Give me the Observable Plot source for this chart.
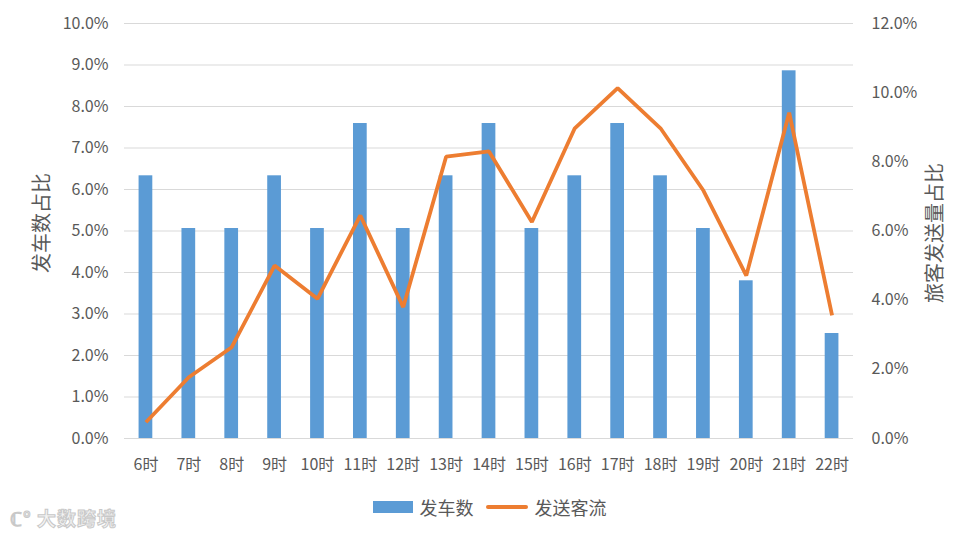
<!DOCTYPE html>
<html><head><meta charset="utf-8">
<script src="https://cdn.jsdelivr.net/npm/d3@7"></script>
<script src="https://cdn.jsdelivr.net/npm/@observablehq/plot@0.6"></script>
<style>
body{margin:0;background:#fff;font-family:"Noto Sans CJK SC","Noto Sans",sans-serif;}
#wrap{position:relative;width:979px;height:538px;overflow:hidden;}
#legend{position:absolute;left:0;top:494px;width:979px;display:flex;justify-content:center;align-items:center;gap:12px;font-size:18px;color:#595959;}
.item{display:flex;align-items:center;gap:7px;}
#wm{position:absolute;left:10px;top:504px;font-size:19px;font-weight:bold;color:#f4f4f4;-webkit-text-stroke:1px #c8c8c8;letter-spacing:1px;}
</style></head><body>
<div id="wrap"><div id="chart"></div>
<div id="legend"><div class="item"><span style="display:inline-block;width:40px;height:12px;background:#5B9BD5"></span>发车数</div>
<div class="item"><span style="display:inline-block;width:42px;height:4px;background:#ED7D31;border-radius:2px"></span>发送客流</div></div>
<div id="wm">ℂ° 大数跨境</div>
</div>
<script>
const hours = ["6时","7时","8时","9时","10时","11时","12时","13时","14时","15时","16时","17时","18时","19时","20时","21时","22时"];
const departures = [6.33,5.06,5.06,6.33,5.06,7.59,5.06,6.33,7.59,5.06,6.33,7.59,6.33,5.06,3.80,8.86,2.53];
const passengers = [0.47,1.77,2.64,5.0,4.04,6.45,3.80,8.15,8.30,6.26,8.97,10.13,8.97,7.17,4.71,9.42,3.56];
const leftTicks = [0,1,2,3,4,5,6,7,8,9,10];
const rightTicks = [0,2,4,6,8,10,12];
const leftTitle = "发车数占比";
const rightTitle = "旅客发送量占比";

const k = 10/12;
const data = hours.map((h,i)=>({h, dep:departures[i], pas:passengers[i]}));
const font = "Noto Sans CJK SC";
const chart = Plot.plot({
  width:979, height:480,
  marginTop:23, marginBottom:42, marginLeft:124, marginRight:126,
  style:{fontFamily:font, fontSize:"15px", color:"#595959", background:"#fff"},
  x:{domain:hours, paddingInner:0.68, paddingOuter:0.34, round:false, label:null},
  y:{domain:[0,10], label:null},
  marks:[
    Plot.ruleY(leftTicks,{stroke:"#d9d9d9", strokeWidth:1}),
    Plot.barY(data,{x:"h", y:"dep", fill:"#5B9BD5"}),
    Plot.line(data,{x:"h", y:d=>d.pas*k, stroke:"#ED7D31", strokeWidth:3.8, strokeLinejoin:"miter", strokeLinecap:"butt"}),
    Plot.axisX({tickSize:0, tickPadding:20, fontSize:16, fill:"#595959"}),
    Plot.axisY(leftTicks,{anchor:"left", tickSize:0, tickPadding:16, tickFormat:d=>d.toFixed(1)+"%", fontSize:16, fill:"#595959", label:null}),
    Plot.axisY(rightTicks,{anchor:"right", y:d=>d*k, text:d=>d.toFixed(1)+"%", tickSize:0, tickPadding:18, fontSize:16, fill:"#595959", textAnchor:"start", label:null}),
    Plot.text([leftTitle],{frameAnchor:"left", textAnchor:"middle", dx:-82, dy:-8, rotate:-90, fontSize:20, fill:"#595959"}),
    Plot.text([rightTitle],{frameAnchor:"right", textAnchor:"middle", dx:82, dy:2, rotate:-90, fontSize:20, fill:"#595959"})
  ]
});
document.getElementById("chart").appendChild(chart);
</script>
</body></html>
